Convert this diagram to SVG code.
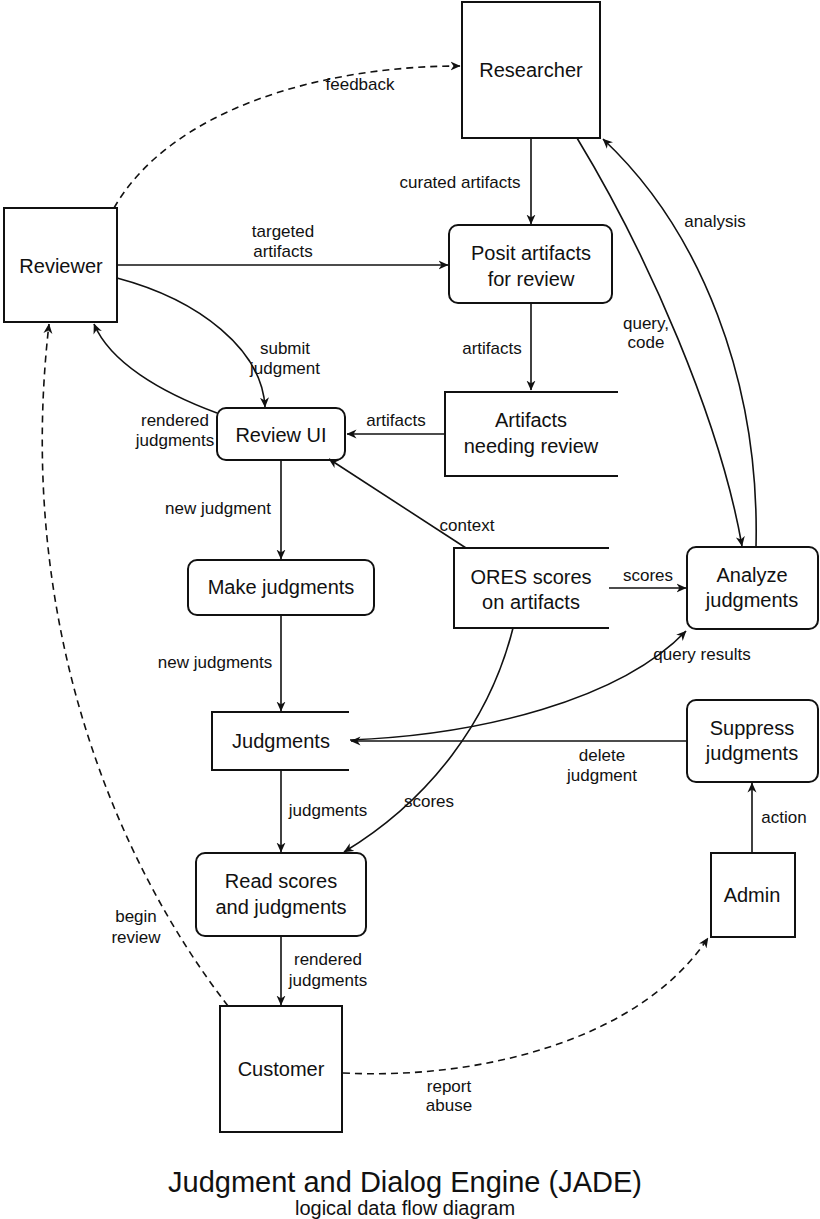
<svg xmlns="http://www.w3.org/2000/svg" width="820" height="1219" viewBox="0 0 820 1219">
<defs>
<style>
.box{fill:none;stroke:#111;stroke-width:2}
.st{fill:none;stroke:#111;stroke-width:2}
.c{fill:none;stroke:#111;stroke-width:1.6;marker-end:url(#ah)}
.d{fill:none;stroke:#111;stroke-width:1.6;stroke-dasharray:7 5;marker-end:url(#ah)}
.n{font-family:"Liberation Sans",Arial,sans-serif;font-size:20px;fill:#111;text-anchor:middle}
.l{font-family:"Liberation Sans",Arial,sans-serif;font-size:17px;fill:#111;text-anchor:middle}
</style>
<marker id="ah" viewBox="0 0 10 10" refX="9.5" refY="5" markerWidth="10" markerHeight="10" markerUnits="userSpaceOnUse" orient="auto">
<path d="M0,0.5 L10,5 L0,9.5 L3,5 z" fill="#111"/>
</marker>
</defs>
<rect width="820" height="1219" fill="#fff"/>

<g id="researcher"><rect class="box" x="462" y="2" width="138" height="136"/><text class="n" x="531" y="77">Researcher</text></g>
<g id="reviewer"><rect class="box" x="4" y="208" width="113" height="114"/><text class="n" x="61" y="273">Reviewer</text></g>
<g id="posit"><rect class="box" x="449" y="225" width="163" height="78" rx="9"/><text class="n" x="531" y="260">Posit artifacts</text><text class="n" x="531" y="286">for review</text></g>
<g id="artifacts-store"><path class="st" d="M618,392 H445 V476 H618"/><text class="n" x="531" y="427">Artifacts</text><text class="n" x="531" y="453">needing review</text></g>
<g id="review-ui"><rect class="box" x="217" y="408" width="128" height="52" rx="9"/><text class="n" x="281" y="442">Review UI</text></g>
<g id="make-judgments"><rect class="box" x="188" y="560" width="186" height="55" rx="9"/><text class="n" x="281" y="594">Make judgments</text></g>
<g id="ores"><path class="st" d="M609,548 H454 V628 H609"/><text class="n" x="531" y="584">ORES scores</text><text class="n" x="531" y="609">on artifacts</text></g>
<g id="analyze"><rect class="box" x="687" y="547" width="131" height="82" rx="9"/><text class="n" x="752" y="582">Analyze</text><text class="n" x="752" y="607">judgments</text></g>
<g id="judgments-store"><path class="st" d="M349,712 H212 V770 H349"/><text class="n" x="281" y="748">Judgments</text></g>
<g id="suppress"><rect class="box" x="687" y="700" width="131" height="82" rx="9"/><text class="n" x="752" y="735">Suppress</text><text class="n" x="752" y="760">judgments</text></g>
<g id="read-scores"><rect class="box" x="196" y="853" width="170" height="83" rx="9"/><text class="n" x="281" y="888">Read scores</text><text class="n" x="281" y="914">and judgments</text></g>
<g id="admin"><rect class="box" x="711" y="853" width="84" height="84"/><text class="n" x="752" y="902">Admin</text></g>
<g id="customer"><rect class="box" x="220" y="1006" width="122" height="126"/><text class="n" x="281" y="1076">Customer</text></g>

<g id="connectors">
<path class="c" d="M531,138 V224"/>
<path class="c" d="M117,265 H448"/>
<path class="c" d="M531,303 V390"/>
<path class="c" d="M445,434 H347"/>
<path class="c" d="M117,278 C200,300 262,350 265,407"/>
<path class="c" d="M217,413 C160,392 110,362 94,324"/>
<path class="c" d="M281,460 V559"/>
<path class="c" d="M281,615 V711"/>
<path class="c" d="M466,548 L329,459"/>
<path class="c" d="M609,588 H686"/>
<path class="c" d="M577,138 C648,255 720,420 742,546"/>
<path class="c" d="M756,547 C760,380 700,230 603,139"/>
<path class="c" d="M350,740 C480,735 620,700 686,631"/>
<path class="c" d="M687,741 H351"/>
<path class="c" d="M752,853 V783"/>
<path class="c" d="M281,770 V852"/>
<path class="c" d="M513,628 C490,720 430,800 344,852"/>
<path class="c" d="M281,936 V1005"/>
<path class="d" d="M228,1006 C115,860 15,620 49,324"/>
<path class="d" d="M114,208 C170,110 320,66 460,66"/>
<path class="d" d="M343,1073 C480,1080 640,1040 708,938"/>
</g>

<g id="labels">
<text class="l" x="360" y="90">feedback</text>
<text class="l" x="460" y="188">curated artifacts</text>
<text class="l" x="283" y="237">targeted</text>
<text class="l" x="283" y="257">artifacts</text>
<text class="l" x="715" y="227">analysis</text>
<text class="l" x="646" y="329">query,</text>
<text class="l" x="646" y="348">code</text>
<text class="l" x="285" y="354">submit</text>
<text class="l" x="285" y="374">judgment</text>
<text class="l" x="492" y="354">artifacts</text>
<text class="l" x="175" y="426">rendered</text>
<text class="l" x="175" y="446">judgments</text>
<text class="l" x="396" y="426">artifacts</text>
<text class="l" x="218" y="514">new judgment</text>
<text class="l" x="467" y="531">context</text>
<text class="l" x="648" y="581">scores</text>
<text class="l" x="215" y="668">new judgments</text>
<text class="l" x="702" y="660">query results</text>
<text class="l" x="602" y="761">delete</text>
<text class="l" x="602" y="781">judgment</text>
<text class="l" x="328" y="816">judgments</text>
<text class="l" x="429" y="807">scores</text>
<text class="l" x="784" y="823">action</text>
<text class="l" x="136" y="922">begin</text>
<text class="l" x="136" y="943">review</text>
<text class="l" x="328" y="965">rendered</text>
<text class="l" x="328" y="986">judgments</text>
<text class="l" x="449" y="1092">report</text>
<text class="l" x="449" y="1111">abuse</text>
</g>

<g id="title">
<text x="405" y="1192" style="font-family:'Liberation Sans',Arial,sans-serif;font-size:29px;fill:#111;text-anchor:middle">Judgment and Dialog Engine (JADE)</text>
<text x="405" y="1215" style="font-family:'Liberation Sans',Arial,sans-serif;font-size:20px;fill:#111;text-anchor:middle">logical data flow diagram</text>
</g>
</svg>
